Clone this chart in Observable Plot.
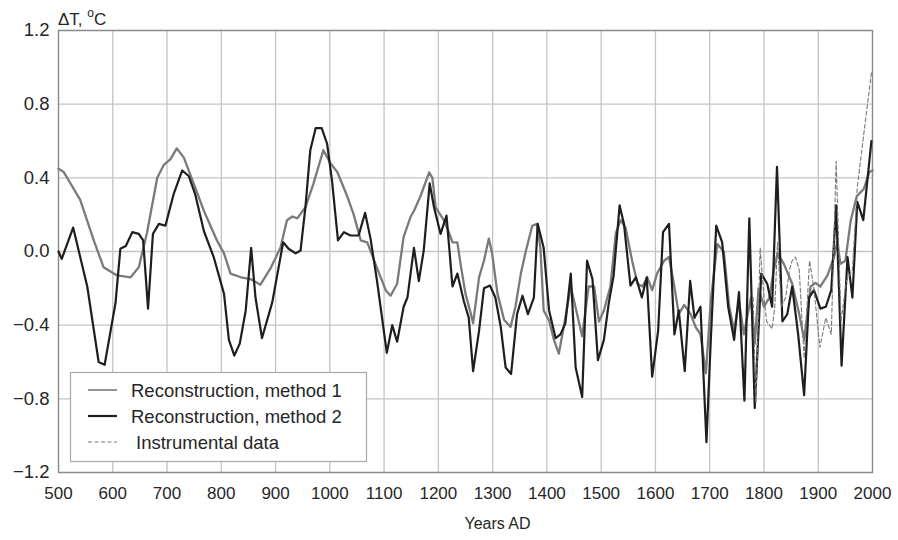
<!DOCTYPE html>
<html>
<head>
<meta charset="utf-8">
<script src="https://cdn.jsdelivr.net/npm/d3@7"></script>
<script src="https://cdn.jsdelivr.net/npm/@observablehq/plot@0.6"></script>
<style>
  html, body { margin: 0; padding: 0; background: #fff; }
  #chart { position: relative; width: 898px; height: 540px; }
</style>
</head>
<body>
<div id="chart"></div>
<script>
// ---- Data ----
const xTicks = [500, 600, 700, 800, 900, 1000, 1100, 1200, 1300, 1400, 1500, 1600, 1700, 1800, 1900, 2000];
const yTicks = [-1.2, -0.8, -0.4, 0.0, 0.4, 0.8, 1.2];

const seriesNames = ["Reconstruction, method 1", "Reconstruction, method 2", "Instrumental data"];

const m1Years = [500, 510, 520, 540, 565, 583, 608, 633, 648, 663, 682, 694, 706, 718, 731, 749, 768, 792, 805, 817, 836, 854, 872, 891, 909, 921, 931, 940, 955, 970, 988, 1001, 1014, 1032, 1044, 1057, 1069, 1087, 1103, 1112, 1124, 1136, 1149, 1155, 1167, 1183, 1189, 1195, 1210, 1220, 1226, 1235, 1241, 1250, 1260, 1264, 1275, 1284, 1293, 1299, 1309, 1321, 1333, 1342, 1352, 1361, 1373, 1382, 1388, 1394, 1404, 1413, 1422, 1431, 1444, 1465, 1477, 1487, 1496, 1505, 1517, 1527, 1536, 1545, 1557, 1567, 1576, 1585, 1594, 1603, 1616, 1625, 1634, 1643, 1653, 1665, 1674, 1683, 1693, 1702, 1714, 1726, 1736, 1745, 1754, 1763, 1776, 1783, 1790, 1800, 1810, 1818, 1825, 1837, 1852, 1865, 1874, 1886, 1895, 1904, 1917, 1929, 1935, 1941, 1950, 1960, 1971, 1984, 1994, 2000];
const m1Values = [0.45, 0.43, 0.38, 0.28, 0.06, -0.085, -0.13, -0.14, -0.085, 0.10, 0.40, 0.47, 0.50, 0.56, 0.51, 0.37, 0.22, 0.06, -0.01, -0.12, -0.14, -0.15, -0.18, -0.09, 0.02, 0.17, 0.19, 0.18, 0.24, 0.37, 0.55, 0.48, 0.43, 0.30, 0.20, 0.06, 0.05, -0.09, -0.21, -0.24, -0.175, 0.08, 0.19, 0.22, 0.30, 0.43, 0.40, 0.24, 0.17, 0.10, 0.05, 0.05, -0.07, -0.23, -0.34, -0.39, -0.14, -0.05, 0.07, -0.01, -0.23, -0.37, -0.41, -0.30, -0.12, 0.0, 0.14, 0.15, 0.02, -0.32, -0.375, -0.48, -0.555, -0.41, -0.19, -0.46, -0.19, -0.19, -0.38, -0.32, -0.19, 0.10, 0.17, 0.13, -0.05, -0.175, -0.19, -0.14, -0.21, -0.12, -0.05, -0.03, -0.175, -0.34, -0.29, -0.34, -0.41, -0.45, -0.66, -0.27, 0.04, 0.0, -0.30, -0.43, -0.27, -0.45, -0.25, -0.50, -0.20, -0.30, -0.25, -0.10, -0.01, -0.07, -0.175, -0.34, -0.48, -0.19, -0.17, -0.19, -0.13, -0.03, 0.05, -0.067, -0.05, 0.17, 0.30, 0.34, 0.43, 0.44];

const m2Years = [500, 506, 527, 553, 574, 585, 605, 614, 624, 636, 648, 656, 665, 674, 685, 697, 712, 728, 740, 752, 768, 786, 805, 814, 824, 834, 845, 855, 863, 875, 894, 914, 924, 937, 946, 955, 964, 974, 985, 995, 1004, 1015, 1026, 1038, 1053, 1065, 1075, 1087, 1105, 1115, 1124, 1136, 1143, 1155, 1164, 1173, 1184, 1192, 1204, 1215, 1226, 1235, 1247, 1256, 1264, 1275, 1284, 1295, 1305, 1315, 1324, 1334, 1345, 1355, 1365, 1376, 1383, 1394, 1404, 1416, 1425, 1434, 1444, 1453, 1465, 1474, 1484, 1494, 1505, 1514, 1523, 1534, 1542, 1554, 1564, 1575, 1584, 1594, 1605, 1614, 1625, 1635, 1643, 1654, 1664, 1672, 1683, 1694, 1702, 1712, 1723, 1734, 1745, 1754, 1764, 1773, 1783, 1795, 1806, 1815, 1824, 1834, 1843, 1852, 1863, 1874, 1883, 1892, 1904, 1914, 1924, 1933, 1943, 1954, 1963, 1972, 1983, 1998];
const m2Values = [0.0, -0.04, 0.13, -0.19, -0.60, -0.615, -0.28, 0.015, 0.03, 0.105, 0.096, 0.06, -0.31, 0.096, 0.15, 0.14, 0.31, 0.44, 0.41, 0.31, 0.11, -0.03, -0.23, -0.48, -0.565, -0.50, -0.32, 0.02, -0.25, -0.47, -0.275, 0.05, 0.015, -0.01, 0.005, 0.24, 0.55, 0.67, 0.67, 0.585, 0.385, 0.06, 0.105, 0.087, 0.087, 0.21, 0.07, -0.16, -0.55, -0.40, -0.49, -0.30, -0.25, 0.02, -0.16, 0.005, 0.37, 0.24, 0.096, 0.195, -0.19, -0.12, -0.27, -0.36, -0.65, -0.43, -0.20, -0.185, -0.25, -0.41, -0.63, -0.665, -0.34, -0.24, -0.34, -0.25, 0.15, 0.02, -0.32, -0.47, -0.45, -0.39, -0.12, -0.63, -0.79, -0.05, -0.15, -0.59, -0.48, -0.28, -0.13, 0.25, 0.15, -0.185, -0.14, -0.25, -0.14, -0.68, -0.43, 0.105, 0.15, -0.45, -0.32, -0.65, -0.16, -0.36, -0.30, -1.035, -0.48, 0.14, 0.05, -0.30, -0.48, -0.22, -0.81, 0.18, -0.85, -0.12, -0.175, -0.30, 0.46, -0.38, -0.34, -0.19, -0.45, -0.78, -0.25, -0.21, -0.31, -0.30, -0.21, 0.25, -0.62, -0.03, -0.25, 0.27, 0.17, 0.60];

const instYears = [1780, 1785, 1793, 1800, 1805, 1815, 1820, 1825, 1832, 1840, 1847, 1852, 1858, 1865, 1874, 1884, 1892, 1903, 1914, 1924, 1933, 1942, 1952, 1963, 1972, 1984, 1998];
const instValues = [-0.25, -0.82, 0.02, -0.25, -0.38, -0.42, -0.30, 0.05, -0.30, -0.25, -0.10, -0.05, -0.03, -0.10, -0.58, -0.05, -0.20, -0.52, -0.36, -0.45, 0.49, -0.38, -0.16, -0.10, 0.35, 0.64, 0.97];

// ---- Build tables for Plot ----
const m1 = m1Years.map((x, i) => ({x, y: m1Values[i]}));
const m2 = m2Years.map((x, i) => ({x, y: m2Values[i]}));
const inst = instYears.map((x, i) => ({x, y: instValues[i]}));

const fontFamily = "'Liberation Sans', Arial, Helvetica, sans-serif";
const textColor = "#262626";

const chart = Plot.plot({
  width: 898,
  height: 540,
  marginLeft: 58,
  marginRight: 26,
  marginTop: 30,
  marginBottom: 68,
  style: {fontFamily, fontSize: "17px", color: textColor, background: "#fff", overflow: "visible"},
  x: {domain: [500, 2000], label: null},
  y: {domain: [-1.2, 1.2], label: null},
  marks: [
    Plot.gridX(xTicks, {stroke: "#c4c4c4", strokeOpacity: 1, strokeWidth: 1.3}),
    Plot.gridY(yTicks, {stroke: "#c4c4c4", strokeOpacity: 1, strokeWidth: 1.3}),
    Plot.frame({stroke: "#8a8a8a", strokeWidth: 1.3}),
    Plot.axisX({ticks: xTicks, tickSize: 0, tickPadding: 14, tickFormat: d => String(d), label: null}),
    Plot.axisY({ticks: yTicks, tickSize: 0, tickPadding: 9, tickFormat: d3.format(".1f"), label: null, fontSize: 18.5}),
    Plot.line(m1, {x: "x", y: "y", stroke: "#7a7a7a", strokeWidth: 2.3, curve: "linear"}),
    Plot.line(m2, {x: "x", y: "y", stroke: "#1e1e1e", strokeWidth: 2.2, curve: "linear"}),
    Plot.line(inst, {x: "x", y: "y", stroke: "#777", strokeWidth: 1.1, strokeDasharray: "4,2.5"}),
    Plot.text(["Years AD"], {frameAnchor: "bottom", dy: 56, dx: 32, fontSize: 16, fill: textColor})
  ]
});

document.getElementById("chart").appendChild(chart);

// ---- Y-axis unit label "ΔT, °C" with superscript o ----
const svg = d3.select(chart);
const unit = svg.append("text")
  .attr("x", 58).attr("y", 25)
  .attr("text-anchor", "start")
  .attr("font-family", fontFamily)
  .attr("font-size", 17)
  .attr("fill", textColor);
unit.append("tspan").text("\u0394T, ");
unit.append("tspan").attr("font-size", 12).attr("dy", -8).text("o");
unit.append("tspan").attr("dy", 8).text("C");

// ---- Legend ----
const lg = svg.append("g")
  .attr("font-family", fontFamily)
  .attr("font-size", 18.5)
  .attr("text-anchor", "start")
  .attr("fill", textColor);
lg.append("rect").attr("x", 70.5).attr("y", 372.5).attr("width", 296).attr("height", 89)
  .attr("fill", "#fff").attr("stroke", "#a8a8a8").attr("stroke-width", 1.2);
const legendRows = [
  {name: seriesNames[0], stroke: "#7a7a7a", width: 1.6, dash: null, y: 390, tx: 131},
  {name: seriesNames[1], stroke: "#1e1e1e", width: 2.2, dash: null, y: 416, tx: 131},
  {name: seriesNames[2], stroke: "#777", width: 1.1, dash: "4,2.5", y: 442, tx: 136}
];
legendRows.forEach(r => {
  const l = lg.append("line").attr("x1", 88).attr("x2", 117).attr("y1", r.y).attr("y2", r.y)
    .attr("stroke", r.stroke).attr("stroke-width", r.width);
  if (r.dash) l.attr("stroke-dasharray", r.dash);
  lg.append("text").attr("x", r.tx).attr("y", r.y).attr("dy", "0.36em").attr("text-anchor", "start").text(r.name);
});
</script>
</body>
</html>
